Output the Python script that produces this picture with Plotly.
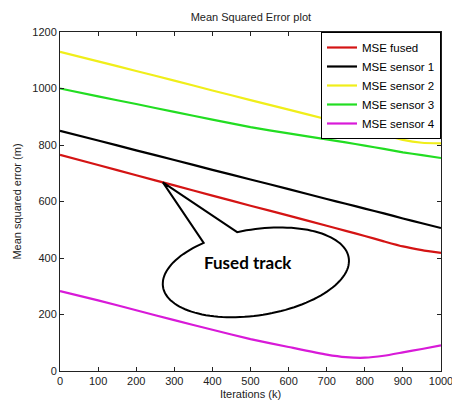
import numpy as np
import plotly.graph_objects as go

# Iteration grid (k) and mean squared error of each track (m)
iterations = [0, 100, 200, 300, 400, 500, 600, 700, 750, 800, 850, 900, 950, 1000]
mse_fused = [765, 729, 693, 657, 621, 585, 550, 514, 496, 478, 459, 441, 428, 418]
mse_sensor1 = [850, 816, 781, 747, 712, 678, 644, 609, 592, 575, 558, 540, 523, 506]
mse_sensor2 = [1130, 1096, 1062, 1028, 993, 959, 925, 891, 873, 855, 836, 818, 808, 806]
mse_sensor3 = [1000, 972, 945, 917, 890, 863, 841, 820, 809, 798, 786, 774, 764, 754]
mse_sensor4 = [283, 250, 215, 180, 146, 113, 85, 58, 49, 47, 54, 66, 78, 91]

series_names = ["MSE fused", "MSE sensor 1", "MSE sensor 2", "MSE sensor 3", "MSE sensor 4"]
series_values = [mse_fused, mse_sensor1, mse_sensor2, mse_sensor3, mse_sensor4]
series_colors = ["#d41414", "#000000", "#f0ee1a", "#22dd22", "#d81ad8"]

x_ticks = list(range(0, 1001, 100))
y_ticks = list(range(0, 1201, 200))

FONT = "Liberation Sans, Arial, sans-serif"

fig = go.Figure()
for name, vals, col in zip(series_names, series_values, series_colors):
    fig.add_trace(go.Scatter(
        x=iterations, y=vals, name=name, mode="lines",
        line=dict(color=col, width=2.2, shape="spline", smoothing=0.5),
    ))

# Speech-bubble callout pointing at the fused track
callout_k = 270
callout_val = float(np.interp(callout_k, iterations, mse_fused))

# bubble geometry in pixels relative to the pointer tip (screen y downward)
cx, cy = 93.0, 90.0
a, b = 94.0, 43.0
theta = np.deg2rad(-8.9)
u = np.array([np.cos(theta), np.sin(theta)])
v = np.array([-np.sin(theta), np.cos(theta)])


def ell(t_deg):
    t = np.deg2rad(t_deg)
    p = np.array([cx, cy]) + a * np.cos(t) * u + b * np.sin(t) * v
    return p[0], -p[1]


p_start = ell(240)
p_end = ell(262.5)
path = f"M {p_start[0]:.1f},{p_start[1]:.1f} L 0,0 L {p_end[0]:.1f},{p_end[1]:.1f}"
for t in np.linspace(262.5, 600, 120):
    px, py = ell(t)
    path += f" L {px:.1f},{py:.1f}"
path += " Z"

fig.add_shape(
    type="path", path=path,
    xref="x", yref="y", xsizemode="pixel", ysizemode="pixel",
    xanchor=callout_k, yanchor=callout_val,
    line=dict(color="black", width=2), fillcolor="white", layer="above",
)

fig.add_annotation(
    x=callout_k, y=callout_val, xref="x", yref="y",
    xshift=85, yshift=-80, showarrow=False,
    text="<b>Fused track</b>",
    font=dict(family="Lato, Open Sans, sans-serif", size=17, color="black"),
)

axis_common = dict(
    showgrid=False, zeroline=False, showline=True, linecolor="#222222", linewidth=1,
    mirror="ticks", ticks="inside", ticklen=4, tickcolor="#222222",
    tickfont=dict(family=FONT, size=11, color="#222222"),
    ticklabeloverflow="allow", automargin=False,
)

fig.update_layout(
    width=452, height=411,
    margin=dict(l=60, r=11, t=32, b=40),
    paper_bgcolor="white", plot_bgcolor="white",
    font=dict(family=FONT, size=11, color="#222222"),
    title=dict(text="Mean Squared Error plot", x=0.555, xanchor="center",
               y=0.958, yanchor="middle", font=dict(family=FONT, size=11, color="#222222")),
    xaxis=dict(range=[0, 1000], tickvals=x_ticks,
               title=dict(text="Iterations (k)", standoff=4,
                          font=dict(family=FONT, size=11, color="#222222")),
               **axis_common),
    yaxis=dict(range=[0, 1200], tickvals=y_ticks,
               title=dict(text="Mean squared error (m)", standoff=8,
                          font=dict(family=FONT, size=11, color="#222222")),
               **axis_common),
    legend=dict(x=1, xanchor="right", y=1, yanchor="top",
                bgcolor="white", bordercolor="black", borderwidth=1,
                font=dict(family=FONT, size=11.5, color="black"),
                tracegroupgap=0, entrywidth=78, entrywidthmode="pixels"),
    showlegend=True,
)

fig.write_html("out.html")
